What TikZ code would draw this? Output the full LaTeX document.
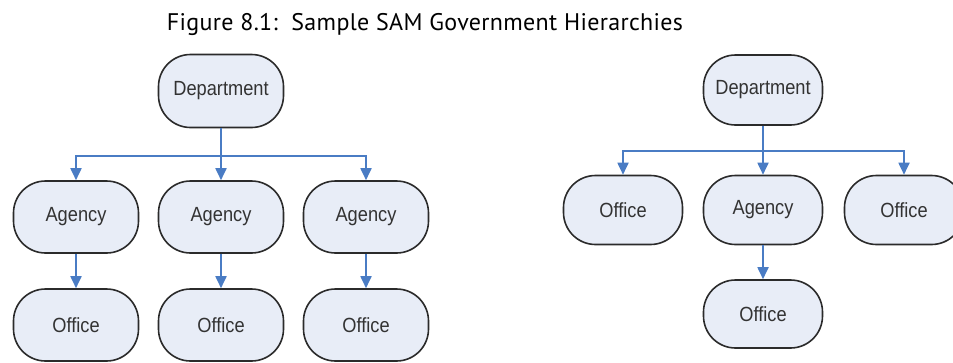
\documentclass[tikz,border=0pt]{standalone}
\usepackage{fontspec}
\setmainfont{Liberation Sans}
\newfontfamily\titlefont[LetterSpace=1.4]{PT Sans}
\usetikzlibrary{arrows.meta,calc}
\definecolor{boxfill}{HTML}{E8EDF7}
\definecolor{boxline}{HTML}{2B2B2B}
\definecolor{arrblue}{HTML}{4A7CC4}
\definecolor{txtgrey}{HTML}{333333}
\newcommand{\nt}[1]{\scalebox{0.89}[1]{#1}}
\tikzset{
  org/.style={draw=boxline, fill=boxfill, line width=1.6pt, rounded corners=32pt,
    font=\fontsize{20.5}{23}\selectfont, text=txtgrey, inner sep=0pt},
  wide/.style={minimum width=125pt, minimum height=72pt},
  narrow/.style={minimum width=119pt, minimum height=69pt},
  arr/.style={draw=arrblue, line width=1.8pt, -{Triangle[width=11pt,length=12pt]}},
}
\begin{document}
\begin{tikzpicture}[x=1pt,y=1pt]
\useasboundingbox (0,0) rectangle (953,-362);
% title
\node[font=\titlefont\fontsize{24}{27}\selectfont, anchor=base, inner sep=0pt] (title) at (425,-30)
  {Figure 8.1:\ \ Sample SAM Government Hierarchies};
% left tree
\node[org, wide, minimum height=73pt] (dL) at (221,-91) {\nt{Department}};
\node[org, wide] (aL1) at (76,-217) {\nt{Agency}};
\node[org, wide] (aL2) at (221,-217) {\nt{Agency}};
\node[org, wide] (aL3) at (366,-217) {\nt{Agency}};
\node[org, wide] (oL1) at (76,-325) {\nt{Office}};
\node[org, wide] (oL2) at (221,-325) {\nt{Office}};
\node[org, wide] (oL3) at (366,-325) {\nt{Office}};
\coordinate (bL) at (221,-156);
\draw[arr] (dL.south) -- (bL) -| (aL1.north);
\draw[arr] (dL.south) -- (aL2.north);
\draw[arr] (dL.south) -- (bL) -| (aL3.north);
\draw[arr] (aL1.south) -- (oL1.north);
\draw[arr] (aL2.south) -- (oL2.north);
\draw[arr] (aL3.south) -- (oL3.north);
% right tree
\node[org, narrow, minimum height=70pt] (dR) at (763,-90) {\nt{Department}};
\node[org, narrow] (oR1) at (623,-210) {\nt{Office}};
\node[org, narrow] (aR) at (763,-210) {\nt{Agency}};
\node[org, narrow] (oR2) at (904,-210) {\nt{Office}};
\node[org, narrow, minimum height=68pt] (oR3) at (763,-314) {\nt{Office}};
\coordinate (bR) at (763,-151);
\draw[arr] (dR.south) -- (bR) -| (oR1.north);
\draw[arr] (dR.south) -- (aR.north);
\draw[arr] (dR.south) -- (bR) -| (oR2.north);
\draw[arr] (aR.south) -- (oR3.north);
\end{tikzpicture}
\end{document}
